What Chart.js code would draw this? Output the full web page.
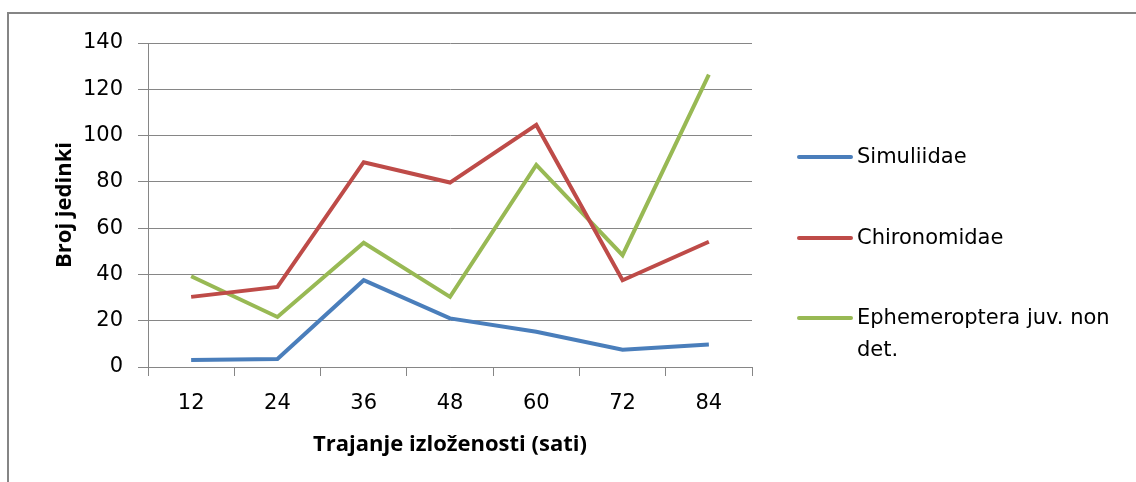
<!DOCTYPE html>
<html>
<head>
<meta charset="utf-8">
<script src="https://cdn.jsdelivr.net/npm/chart.js@4"></script>
<style>
    html, body { margin: 0; padding: 0; background: #fff; overflow: hidden; }
    body { width: 1136px; height: 482px; position: relative; font-family: 'DejaVu Sans', sans-serif; }
    #frame { position: absolute; left: 7px; top: 12px; width: 1129px; height: 470px; border-top: 2px solid #858585; border-left: 2px solid #858585; box-sizing: border-box; }
    #wrap { position: absolute; left: 0; top: 0; width: 1136px; height: 482px; }
    #legend { position: absolute; left: 797px; top: 140px; color: #000; font-size: 21px; }
    .item { position: absolute; left: 0; white-space: nowrap; }
    .swatch { position: absolute; left: 0; width: 56px; height: 4px; border-radius: 2px; }
    .text { position: absolute; left: 60px; line-height: 32px; }
</style>
</head>
<body>
<div id="frame"></div>
<div id="wrap"><canvas id="lineChart" width="1136" height="482"></canvas></div>
<div id="legend"></div>
<script>
// Exposure time categories (hours)
const hours = ['12', '24', '36', '48', '60', '72', '84'];

// Number of individuals per taxon
const simuliidae = [3, 3.5, 37.5, 21, 15.2, 7.5, 9.7];
const chironomidae = [30.3, 34.6, 88.5, 79.7, 104.6, 37.5, 54.1];
const ephemeroptera = [39.2, 21.6, 53.7, 30.3, 87.3, 48.3, 126.3];

const seriesNames = ['Simuliidae', 'Chironomidae', 'Ephemeroptera juv. non det.'];
const seriesColors = ['#4a7ebb', '#be4b48', '#98b954'];

const yTicks = [0, 20, 40, 60, 80, 100, 120, 140];

const tickFont = { family: 'DejaVu Sans', size: 21 };
const titleFont = { family: 'Open Sans', size: 22, weight: 'bold' };

const datasets = [simuliidae, chironomidae, ephemeroptera].map((values, i) => ({
    label: seriesNames[i],
    data: values,
    borderColor: seriesColors[i],
    backgroundColor: seriesColors[i],
    borderWidth: 4,
    pointRadius: 0,
    tension: 0,
    fill: false
}));

const ctx = document.getElementById('lineChart');
const chart = new Chart(ctx, {
    type: 'line',
    data: { labels: hours, datasets: datasets },
    options: {
        responsive: false,
        animation: false,
        devicePixelRatio: 1,
        layout: { padding: { left: 44, right: 384, top: 43, bottom: 20 } },
        plugins: {
            legend: { display: false },
            tooltip: { enabled: false }
        },
        scales: {
            x: {
                offset: true,
                grid: {
                    offset: true,
                    drawOnChartArea: false,
                    color: '#868686',
                    tickLength: 9
                },
                border: { color: '#868686' },
                ticks: { color: '#000', font: tickFont, padding: 15 },
                title: {
                    display: true,
                    text: 'Trajanje izloženosti (sati)',
                    color: '#000',
                    font: titleFont,
                    padding: { top: 8 }
                },
                afterFit(scale) { scale.height = 95; }
            },
            y: {
                min: 0,
                max: 140,
                afterBuildTicks(scale) { scale.ticks = yTicks.map(v => ({ value: v })); },
                grid: { color: '#868686', tickLength: 10 },
                border: { color: '#868686' },
                ticks: { color: '#000', font: tickFont, padding: 15 },
                title: {
                    display: true,
                    text: 'Broj jedinki',
                    color: '#000',
                    font: titleFont,
                    padding: { top: 8, bottom: 0 }
                },
                afterFit(scale) { scale.width = 104; }
            }
        }
    }
});

// Legend on the right, built from the datasets
const legendRows = [0, 81, 161];
const legend = document.getElementById('legend');
chart.data.datasets.forEach((ds, i) => {
    const item = document.createElement('div');
    item.className = 'item';
    item.style.top = legendRows[i] + 'px';
    const sw = document.createElement('div');
    sw.className = 'swatch';
    sw.style.background = ds.borderColor;
    sw.style.top = '15px';
    const tx = document.createElement('div');
    tx.className = 'text';
    tx.style.width = '270px';
    tx.style.whiteSpace = 'normal';
    tx.textContent = ds.label;
    item.appendChild(sw);
    item.appendChild(tx);
    legend.appendChild(item);
});
</script>
</body>
</html>
